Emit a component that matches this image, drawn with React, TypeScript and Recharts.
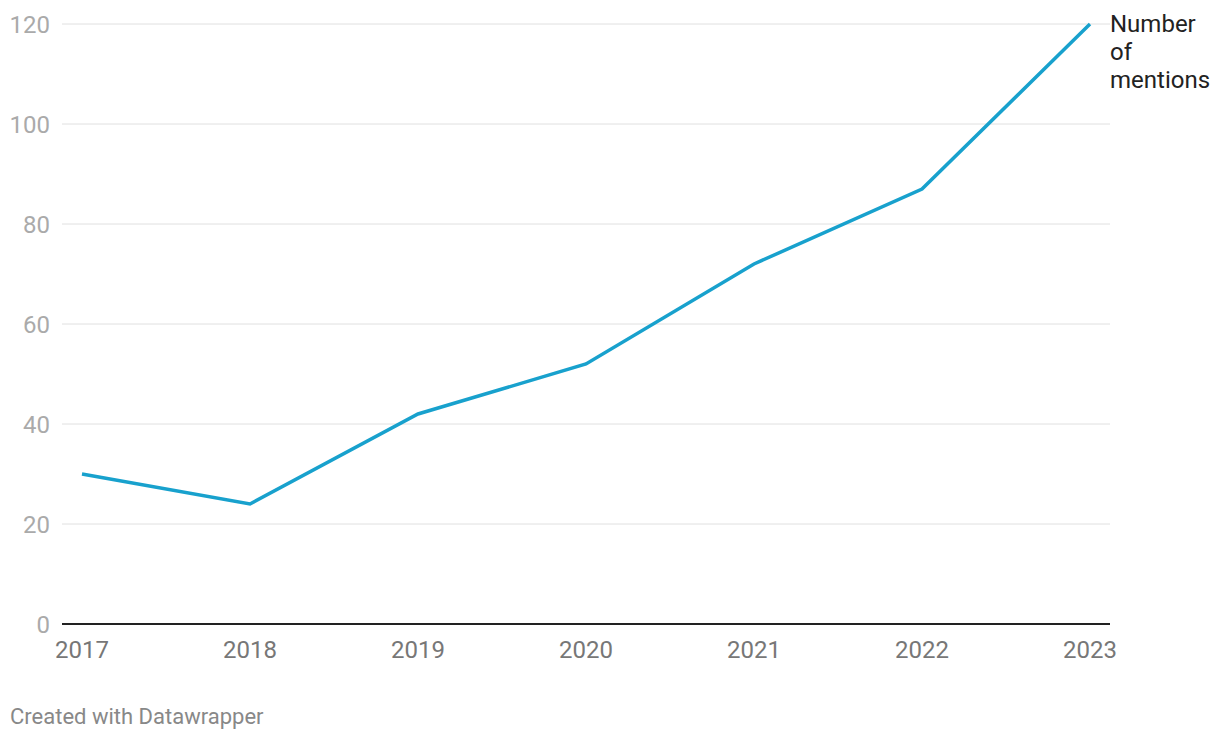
import { LineChart, Line, XAxis, YAxis, CartesianGrid, LabelList } from "recharts";

const years = ["2017", "2018", "2019", "2020", "2021", "2022", "2023"];
const mentions = [30, 24, 42, 52, 72, 87, 120];
const yTicks = [0, 20, 40, 60, 80, 100, 120];
const seriesLabel = ["Number", "of", "mentions"];

const data = years.map((year, i) => ({ year, mentions: mentions[i] }));

const font = "Roboto, 'Noto Sans', sans-serif";

function EndLabel(props: any) {
    const { x, y, index } = props;
    if (index !== years.length - 1) return null;
    return (
        <text x={x + 20} y={y} fill="#222" fontSize={24} fontFamily={font}>
            {seriesLabel.map((line, i) => (
                <tspan key={line} x={x + 20} dy={i === 0 ? "0.35em" : 28}>
                    {line}
                </tspan>
            ))}
        </text>
    );
}

export default function App() {
    return (
        <div style={{ position: "absolute", left: 0, top: 0, width: 1220, height: 740, background: "#fff" }}>
            <LineChart
                width={1220}
                height={740}
                data={data}
                margin={{ top: 24, right: 110, bottom: 86, left: 0 }}
            >
                <CartesianGrid vertical={false} stroke="#e0e0e0" strokeWidth={1} />
                <XAxis
                    dataKey="year"
                    height={30}
                    padding={{ left: 20, right: 20 }}
                    axisLine={{ stroke: "#222", strokeWidth: 2 }}
                    tickLine={false}
                    tickMargin={11}
                    tick={{ fill: "#777", fontSize: 24, fontFamily: font }}
                    interval={0}
                />
                <YAxis
                    width={62}
                    domain={[0, 120]}
                    ticks={yTicks}
                    axisLine={false}
                    tickLine={false}
                    tickMargin={6}
                    tick={{ fill: "#aaa", fontSize: 24, fontFamily: font }}
                />
                <Line
                    type="linear"
                    dataKey="mentions"
                    stroke="#18a1cd"
                    strokeWidth={3.5}
                    dot={false}
                    activeDot={false}
                    isAnimationActive={false}
                >
                    <LabelList dataKey="mentions" content={EndLabel} />
                </Line>
            </LineChart>
            <div
                style={{
                    position: "absolute",
                    left: 10,
                    top: 704,
                    fontFamily: font,
                    fontSize: 22,
                    color: "#888",
                }}
            >
                Created with Datawrapper
            </div>
        </div>
    );
}
